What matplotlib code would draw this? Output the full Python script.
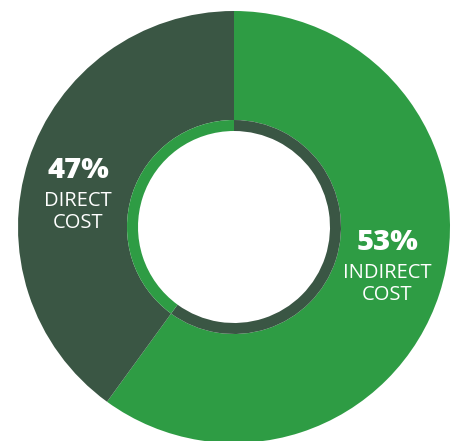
import matplotlib
matplotlib.use('Agg')
import matplotlib.pyplot as plt

# shares as drawn in the picture (the ring split is not exactly the printed %)
categories = ["INDIRECT\nCOST", "DIRECT\nCOST"]
pct_labels = ["53%", "47%"]
shares = [60, 40]

green = "#2e9c44"
dark = "#3a5644"

W, H = 457, 441
fig = plt.figure(figsize=(W / 100, H / 100), dpi=100)
ax = fig.add_axes([0, 0, 1, 1])

cx, cy = 234, H - 227
r_out, r_mid, r_in = 216, 107, 96

# outer ring
ax.pie(shares, colors=[green, dark], startangle=90, counterclock=False,
       center=(cx, cy), radius=r_out, frame=True,
       wedgeprops=dict(width=r_out - r_mid, linewidth=0))
# thin inner ring with the colours swapped
ax.pie(shares, colors=[dark, green], startangle=90, counterclock=False,
       center=(cx, cy), radius=r_mid, frame=True,
       wedgeprops=dict(width=r_mid - r_in, linewidth=0))
ax.set_xlim(0, W)
ax.set_ylim(0, H)
ax.set_aspect('equal')
ax.axis('off')

font = "Open Sans"
# x centre and baseline (pixels from top) of the % label
label_pos = [(387, 250), (78, 178)]
for pct, cat, (x, y) in zip(pct_labels, categories, label_pos):
    ax.text(x, H - y, pct, ha='center', va='baseline', color='white',
            fontsize=21, fontweight='heavy', family=font)
    for i, line in enumerate(cat.split("\n")):
        ax.text(x, H - y - 28 - 22 * i, line, ha='center', va='baseline',
                color='white', fontsize=14.5, family=font)

fig.savefig("out.png", dpi=100, facecolor='white')
